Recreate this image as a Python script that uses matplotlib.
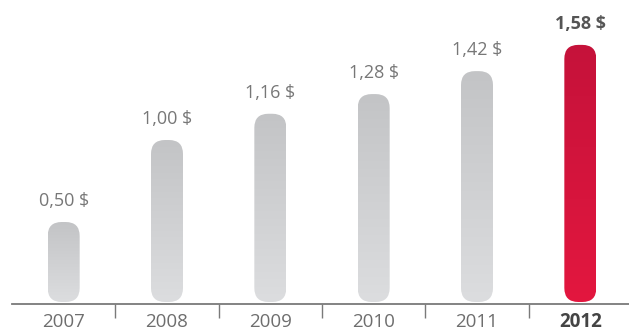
import numpy as np
import matplotlib
matplotlib.use("Agg")
import matplotlib.pyplot as plt
from matplotlib.patches import FancyBboxPatch
from matplotlib.colors import LinearSegmentedColormap

years = ["2007", "2008", "2009", "2010", "2011", "2012"]
values = [0.50, 1.00, 1.16, 1.28, 1.42, 1.58]
labels = ["0,50 $", "1,00 $", "1,16 $", "1,28 $", "1,42 $", "1,58 $"]

plt.rcParams['font.family'] = ['Open Sans', 'DejaVu Sans']

W, H = 629, 332
fig = plt.figure(figsize=(W / 100, H / 100), dpi=100)
# axes: x from 12px to 632px, baseline at 28px from bottom
ax = fig.add_axes([12 / W, 28 / H, 620 / W, 304 / H])
px_per_unit = 164.0
ax.set_xlim(-0.5, 5.5)
ax.set_ylim(0, 304 / px_per_unit)

px_x = 620 / 6  # pixels per category
bar_w = 32 / px_x
aspect = (1 / px_per_unit) / (1 / px_x)

gray = LinearSegmentedColormap.from_list("g", ["#dcdddf", "#c3c4c6"])
red = LinearSegmentedColormap.from_list("r", ["#e3173f", "#c5123a"])
grad = np.linspace(0, 1, 256).reshape(-1, 1)

for i, v in enumerate(values):
    x0 = i - bar_w / 2
    y0 = 2 / px_per_unit
    patch = FancyBboxPatch((x0, y0), bar_w, v - y0,
                           boxstyle="round,pad=0,rounding_size=%f" % (14 / px_x),
                           mutation_aspect=aspect,
                           facecolor="none", edgecolor="none")
    ax.add_patch(patch)
    cmap = red if i == len(values) - 1 else gray
    im = ax.imshow(grad, extent=(x0, x0 + bar_w, y0, v), origin="lower",
                   cmap=cmap, aspect="auto", interpolation="bilinear")
    im.set_clip_path(patch)
    last = i == len(values) - 1
    ax.text(i, v + 21 / px_per_unit, labels[i], ha="center", va="center",
            fontsize=13, color="#555555" if last else "#777777",
            fontweight="bold" if last else "normal")

ax.set_aspect("auto")
ax.set_xlim(-0.5, 5.5)
ax.set_ylim(0, 304 / px_per_unit)

for s in ["top", "right", "left"]:
    ax.spines[s].set_visible(False)
ax.spines["bottom"].set_color("#7a7a7a")
ax.spines["bottom"].set_linewidth(1.3)
ax.set_yticks([])
ax.set_xticks(np.arange(0.5, 5, 1))
ax.set_xticklabels([])
ax.tick_params(axis="x", length=10, width=1, color="#7a7a7a", direction="out")
for i, y in enumerate(years):
    last = i == len(years) - 1
    ax.text(i, -18 / px_per_unit, y, ha="center", va="center",
            fontsize=13.5, color="#444444" if last else "#6e6e6e",
            fontweight="bold" if last else "normal", clip_on=False)

fig.savefig("out.png", dpi=100)
